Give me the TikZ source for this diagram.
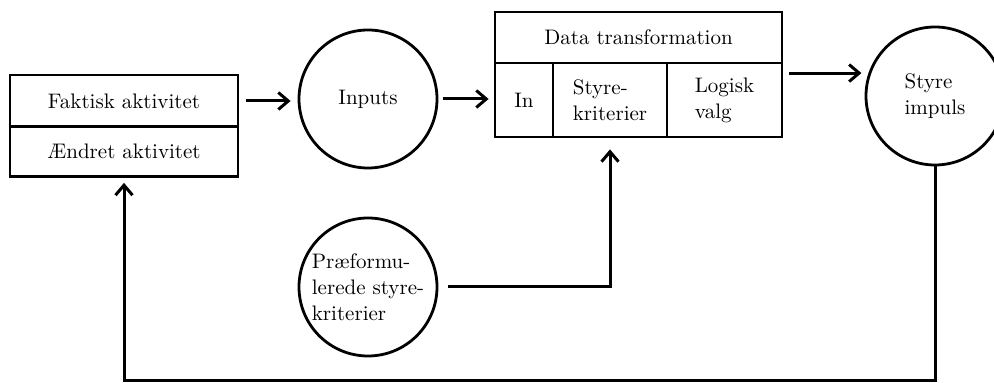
\documentclass[tikz,border=0pt]{standalone}
\usetikzlibrary{arrows.meta}
\begin{document}
\begin{tikzpicture}[x=0.5pt,y=-0.5pt,
  every node/.style={font=\fontsize{10.5}{13}\selectfont, inner sep=0pt},
  cell/.style={draw, line width=1.4pt, rectangle},
  ring/.style={draw, line width=1.4pt, circle, minimum size=69pt, align=left},
  arr/.style={line width=1.5pt, -{Straight Barb[length=5pt,width=8.5pt]}}
]
\useasboundingbox (0,0) rectangle (994,383);
% left box
\node[cell, minimum width=114pt, minimum height=26pt] (fakt) at (124,101) {Faktisk aktivitet};
\node[cell, minimum width=114pt, minimum height=25pt] (aendret) at (124,151.5) {Ændret aktivitet};
% circles
\node[ring] (inputs) at (368,99) {Inputs};
\node[ring] (praef) at (368,287) {Præformu-\\lerede styre-\\kriterier};
\node[ring] (styre) at (935,96) {Styre\\impuls};
% data transformation box
\node[cell, minimum width=143.5pt, minimum height=25.5pt] (dt) at (638.5,37.5) {Data transformation};
\node[cell, minimum width=29pt, minimum height=37pt] (in) at (524,100) {In};
\node[cell, minimum width=57pt, minimum height=37pt, align=left] (stykrit) at (610,100) {Styre-\\kriterier};
\node[cell, minimum width=57.5pt, minimum height=37pt, align=left] (logisk) at (724.5,100) {Logisk\\valg};
% connectors
\draw[arr, shorten <=3.5pt, shorten >=3.5pt] (fakt.east) -- (fakt.east -| inputs.west);
\draw[arr, shorten <=2.5pt, shorten >=2.5pt] (inputs.east) -- (inputs.east -| in.west);
\draw[arr, shorten <=3pt, shorten >=3.5pt] (logisk.east |- styre.161) -- (styre.161);
\draw[arr, shorten <=5pt, shorten >=5.5pt] (praef.east) -| (stykrit.south);
\coordinate (bot) at (124,381);
\draw[arr, shorten >=2.5pt] (styre.south) |- (bot) -- (aendret.south);
\end{tikzpicture}
\end{document}
